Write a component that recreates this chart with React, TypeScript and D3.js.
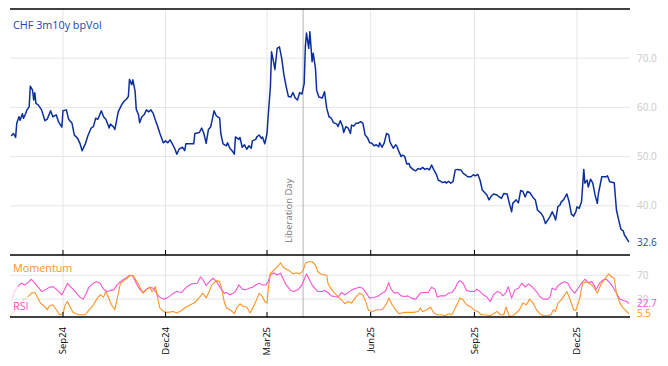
import { line, scaleLinear, scaleTime, timeDay, timeFormat } from "d3";

// days since START_DATE, value
const volSeries: [number, number][] = [
  [1, 54.2], [3, 54.7], [5, 53.9], [6, 56.8], [8, 58.1], [9, 57.4], [11, 58.7], [12, 57.8], [14, 58.8], [15, 59.5],
  [17, 60.1], [18, 64.3], [20, 63.5], [21, 61.5], [22, 63.0], [23, 60.8], [25, 60.5], [28, 59.5], [31, 57.3], [33, 57.6],
  [36, 59.3], [38, 58.1], [41, 58.5], [43, 57.1], [46, 56.0], [47, 59.3], [50, 59.5], [52, 57.6], [55, 56.8], [57, 54.4],
  [60, 53.7], [62, 52.7], [64, 51.2], [67, 52.7], [69, 54.2], [72, 55.8], [74, 56.1], [76, 57.8], [78, 57.6], [81, 59.3],
  [83, 58.1], [85, 57.6], [88, 55.8], [89, 56.6], [92, 56.0], [93, 55.5], [96, 59.1], [99, 60.5], [101, 61.2], [103, 61.6],
  [105, 62.2], [106, 65.7], [108, 64.6], [109, 65.6], [111, 63.2], [112, 59.6], [114, 58.5], [115, 56.9], [117, 58.1], [119, 58.5],
  [121, 59.5], [123, 59.1], [125, 59.5], [127, 58.8], [129, 57.4], [131, 56.1], [133, 54.7], [136, 52.8], [138, 53.2], [140, 52.8],
  [142, 53.4], [144, 52.6], [146, 51.7], [148, 50.5], [150, 51.5], [153, 51.9], [155, 51.2], [156, 52.6], [159, 52.6], [163, 52.6],
  [164, 54.7], [168, 54.9], [170, 55.8], [172, 54.7], [174, 52.7], [176, 55.5], [178, 56.0], [181, 59.3], [183, 58.3], [186, 57.8],
  [187, 54.7], [189, 52.6], [192, 52.2], [193, 52.8], [195, 51.7], [197, 51.2], [199, 50.5], [200, 54.0], [203, 53.5], [204, 53.9],
  [206, 51.9], [208, 52.4], [210, 51.5], [212, 52.2], [214, 51.7], [215, 53.2], [218, 53.5], [219, 54.0], [221, 54.4], [223, 53.7],
  [224, 54.0], [226, 52.6], [228, 54.7], [229, 58.1], [231, 64.2], [232, 71.3], [234, 69.0], [235, 67.7], [237, 72.0], [239, 72.3],
  [241, 70.0], [243, 66.6], [245, 64.2], [247, 62.2], [249, 62.1], [251, 63.0], [253, 61.9], [255, 61.5], [257, 63.0], [259, 62.7],
  [261, 64.9], [262, 72.3], [263, 75.1], [265, 72.0], [266, 75.4], [268, 69.3], [269, 71.0], [271, 67.9], [272, 63.5], [274, 62.1],
  [277, 61.9], [279, 63.2], [281, 59.8], [283, 58.1], [285, 57.8], [287, 56.9], [290, 56.6], [291, 56.1], [293, 57.3], [295, 56.2],
  [296, 54.9], [298, 56.1], [300, 55.8], [302, 54.7], [303, 56.4], [305, 56.2], [307, 56.8], [309, 56.8], [311, 57.1], [313, 56.8],
  [315, 54.4], [317, 53.9], [319, 52.8], [321, 52.7], [323, 52.2], [325, 52.4], [327, 52.0], [328, 52.8], [330, 51.9], [332, 52.8],
  [334, 54.7], [336, 54.4], [337, 53.0], [340, 51.7], [342, 52.4], [343, 52.2], [345, 51.0], [347, 50.0], [348, 50.3], [350, 50.1],
  [352, 48.5], [354, 48.6], [355, 47.9], [358, 47.3], [360, 47.1], [362, 47.6], [364, 47.4], [366, 47.8], [368, 47.4], [370, 47.6],
  [372, 47.3], [374, 48.3], [376, 47.3], [378, 46.5], [380, 45.2], [381, 45.1], [384, 44.7], [386, 44.9], [387, 44.6], [389, 45.0],
  [391, 44.6], [393, 44.9], [395, 47.3], [397, 47.4], [400, 47.3], [402, 46.6], [404, 46.3], [406, 45.9], [409, 45.9], [411, 46.3],
  [413, 46.1], [415, 46.4], [417, 45.2], [419, 43.2], [421, 42.7], [423, 42.2], [425, 41.2], [427, 42.0], [429, 42.4], [432, 42.2],
  [434, 41.8], [436, 41.5], [438, 42.5], [441, 42.4], [443, 40.5], [445, 38.8], [446, 40.5], [449, 41.2], [451, 40.6], [453, 43.1],
  [455, 42.9], [457, 41.8], [459, 42.9], [461, 42.7], [464, 41.7], [466, 41.2], [468, 39.1], [471, 38.5], [473, 37.8], [475, 36.4],
  [477, 37.1], [479, 37.8], [481, 38.8], [483, 37.8], [484, 37.1], [486, 39.8], [488, 40.2], [489, 40.8], [491, 41.2], [494, 42.4],
  [496, 40.8], [498, 38.3], [500, 37.9], [502, 38.8], [503, 39.8], [505, 39.5], [507, 40.8], [509, 47.4], [510, 44.6], [512, 45.2],
  [513, 43.8], [515, 45.4], [517, 44.6], [519, 42.2], [521, 40.5], [522, 42.5], [525, 45.9], [527, 45.9], [529, 45.9], [530, 46.1],
  [532, 44.9], [534, 44.8], [536, 44.7], [538, 39.1], [540, 37.1], [542, 35.2], [544, 34.9], [545, 34.1], [547, 33.4], [549, 32.6],
];

const rsiSeries: [number, number][] = [
  [2, 31.7], [4, 42.7], [7, 51.0], [10, 56.7], [13, 53.8], [16, 57.7], [19, 63.3], [22, 56.7], [25, 50.0], [28, 42.7],
  [31, 45.5], [35, 50.0], [38, 51.0], [41, 46.7], [46, 37.2], [49, 48.3], [51, 56.7], [54, 50.0], [58, 42.7], [62, 33.3],
  [65, 30.0], [67, 37.2], [70, 50.0], [74, 56.7], [77, 59.3], [80, 56.7], [83, 46.7], [86, 42.7], [89, 44.3], [92, 45.5],
  [95, 53.8], [98, 59.3], [101, 63.3], [104, 66.7], [106, 70.0], [109, 68.8], [112, 56.7], [115, 46.7], [118, 41.0], [121, 46.7],
  [124, 50.0], [127, 48.3], [130, 40.0], [132, 34.3], [136, 30.0], [139, 31.7], [142, 35.5], [145, 40.0], [148, 42.7], [152, 41.0],
  [157, 51.0], [161, 55.5], [166, 56.7], [169, 67.0], [171, 63.0], [174, 53.0], [177, 59.3], [180, 65.0], [183, 60.0], [186, 51.0],
  [190, 40.0], [192, 41.0], [195, 37.2], [198, 40.0], [200, 42.7], [203, 53.8], [206, 46.7], [209, 45.5], [212, 48.3], [215, 50.0],
  [218, 53.8], [221, 56.7], [224, 53.8], [227, 53.8], [229, 59.3], [231, 70.5], [234, 74.3], [237, 70.5], [240, 73.3], [242, 65.0],
  [245, 53.8], [249, 44.3], [252, 42.7], [256, 46.7], [259, 53.8], [261, 63.3], [263, 72.2], [265, 65.0], [268, 53.8], [271, 46.7],
  [273, 42.7], [277, 42.7], [279, 44.3], [282, 41.0], [285, 35.5], [288, 34.3], [291, 33.3], [294, 41.0], [297, 37.2], [300, 41.0],
  [303, 45.5], [307, 48.3], [310, 50.0], [313, 48.3], [316, 40.0], [319, 31.7], [322, 32.7], [326, 34.3], [330, 40.0], [333, 42.7],
  [336, 57.7], [338, 46.7], [341, 40.0], [344, 41.0], [347, 35.5], [350, 34.3], [353, 35.5], [356, 31.7], [360, 30.0], [364, 40.0],
  [367, 41.0], [371, 41.0], [374, 50.0], [377, 46.7], [379, 33.3], [382, 35.5], [386, 35.5], [389, 40.0], [392, 41.0], [395, 48.3],
  [397, 57.0], [399, 61.0], [402, 56.7], [405, 44.3], [409, 42.7], [412, 42.7], [414, 46.7], [417, 42.7], [420, 37.2], [423, 33.3],
  [426, 26.0], [429, 37.2], [432, 42.7], [435, 41.0], [437, 35.5], [440, 41.0], [442, 51.0], [445, 31.7], [448, 45.5], [451, 48.3],
  [454, 56.7], [457, 50.0], [460, 55.5], [463, 51.0], [467, 42.7], [470, 34.3], [473, 30.0], [477, 30.0], [479, 33.3], [481, 48.3],
  [484, 45.5], [486, 52.2], [489, 56.7], [492, 59.3], [495, 56.7], [498, 45.5], [501, 40.0], [504, 48.3], [507, 56.7], [510, 63.3],
  [513, 57.7], [516, 59.3], [518, 53.8], [520, 46.7], [523, 56.7], [526, 62.2], [529, 63.3], [532, 57.7], [535, 50.0], [538, 40.0],
  [541, 30.0], [544, 27.7], [547, 26.0], [549, 22.7],
];

const momentumSeries: [number, number][] = [
  [0, 1.0], [6, 15.0], [12, 28.8], [16, 34.3], [19, 40.0], [22, 41.0], [24, 34.3], [27, 23.3], [30, 18.8], [33, 12.2],
  [35, 18.8], [38, 20.5], [41, 12.2], [44, 3.8], [47, 5.5], [49, 20.5], [51, 26.0], [53, 17.7], [56, 7.7], [61, 3.8],
  [67, 3.8], [69, 9.3], [73, 17.7], [77, 30.0], [80, 37.2], [83, 33.3], [85, 42.7], [87, 34.3], [90, 20.5], [93, 12.2],
  [95, 30.0], [98, 56.7], [101, 61.0], [104, 65.0], [106, 68.8], [109, 70.0], [112, 61.0], [115, 51.0], [118, 40.0], [121, 45.5],
  [124, 50.0], [126, 42.7], [129, 51.0], [131, 31.7], [133, 15.0], [136, 9.3], [140, 7.7], [145, 9.3], [148, 6.7], [152, 11.0],
  [155, 15.0], [160, 20.5], [164, 24.3], [169, 35.0], [171, 40.0], [174, 32.0], [176, 40.0], [179, 53.8], [183, 61.0], [186, 59.3],
  [188, 45.5], [190, 26.0], [192, 15.0], [196, 11.0], [199, 5.5], [201, 15.0], [204, 22.2], [207, 17.7], [210, 16.7], [213, 6.7],
  [216, 17.7], [219, 30.0], [221, 40.0], [224, 34.3], [226, 26.0], [228, 23.3], [229, 45.5], [231, 73.3], [234, 78.8], [237, 83.3],
  [240, 91.0], [242, 84.3], [245, 80.0], [248, 77.7], [251, 72.2], [254, 74.3], [257, 72.2], [260, 77.7], [262, 90.0], [265, 92.7],
  [268, 92.7], [271, 87.2], [273, 76.0], [276, 72.2], [279, 70.5], [281, 70.5], [282, 56.7], [285, 46.7], [288, 40.0], [291, 34.3],
  [294, 28.8], [297, 22.2], [300, 26.0], [303, 23.3], [306, 31.7], [310, 40.0], [313, 37.2], [316, 23.3], [318, 11.0], [322, 9.3],
  [325, 12.2], [330, 12.2], [332, 16.7], [334, 22.2], [336, 31.7], [339, 20.5], [342, 12.2], [345, 5.5], [350, 7.7], [353, 7.7],
  [358, 7.7], [362, 9.3], [364, 15.0], [366, 9.3], [370, 12.2], [373, 16.7], [376, 6.7], [379, 3.8], [383, 3.8], [386, 2.2],
  [389, 5.5], [392, 3.8], [395, 15.0], [397, 22.0], [399, 31.7], [402, 28.8], [405, 20.5], [409, 16.7], [412, 11.0], [415, 9.3],
  [418, 3.8], [421, 3.8], [426, 2.2], [430, 6.7], [432, 9.3], [435, 3.8], [438, 3.8], [440, 16.7], [443, 1.0], [446, 2.2],
  [449, 6.7], [452, 12.2], [455, 23.3], [458, 20.5], [461, 30.0], [464, 23.3], [467, 12.2], [470, 5.5], [473, 2.2], [477, 2.2],
  [480, 3.8], [482, 12.2], [484, 9.3], [486, 23.3], [489, 28.8], [492, 37.2], [494, 42.7], [497, 28.8], [500, 12.2], [502, 11.0],
  [505, 28.8], [508, 56.7], [511, 59.3], [514, 56.7], [518, 50.0], [521, 40.0], [524, 53.8], [527, 62.2], [531, 72.2], [534, 66.7],
  [536, 65.0], [538, 40.0], [541, 23.3], [544, 15.0], [547, 9.3], [549, 5.5],
];

const START_DATE = new Date(2024, 6, 16);
const END_DATE = new Date(2026, 0, 17);
const EVENT_DATE = new Date(2025, 3, 2);
const EVENT_LABEL = "Liberation Day";
const xTickDates = [
  new Date(2024, 8, 1),
  new Date(2025, 11, 1),
  new Date(2024, 11, 1),
  new Date(2025, 2, 1),
  new Date(2025, 5, 1),
  new Date(2025, 8, 1),
];
const volTicks = [40, 50, 60, 70];
const oscTicks = [30, 70];
const RSI_WARMUP_DAYS = 6;
const MOMENTUM_WARMUP_DAYS = 14;

const WIDTH = 668;
const HEIGHT = 366;
const LEFT = 10;
const RIGHT = 630;
const TOP = 9;
const MID = 255;
const BOTTOM = 317;
const FONT = "'Open Sans', 'Noto Sans', sans-serif";

const BLUE = "#0c2f9c";
const BLUE_TEXT = "#2445a8";
const PINK = "#f852d6";
const ORANGE = "#fb9426";
const GRID = "#e6e6e6";
const AXIS_TEXT = "#c9c9c9";

type Point = [number, number];

export default function App() {
  const x = scaleTime().domain([START_DATE, END_DATE]).range([LEFT, RIGHT]);
  const yVol = scaleLinear().domain([30, 80]).range([MID, TOP]);
  const yOsc = scaleLinear().domain([0, 104]).range([BOTTOM, MID]);
  const dayX = (d: number) => x(timeDay.offset(START_DATE, d));

  const volPath = line<Point>()
    .x((p) => dayX(p[0]))
    .y((p) => yVol(p[1]))(volSeries);
  const oscLine = line<Point>()
    .x((p) => dayX(p[0]))
    .y((p) => yOsc(p[1]));

  const splitWarmup = (series: Point[], warmup: number) => {
    const idx = series.findIndex((p) => p[0] >= warmup);
    return [series.slice(0, idx + 1), series.slice(idx)];
  };
  const [rsiWarm, rsiMain] = splitWarmup(rsiSeries, RSI_WARMUP_DAYS);
  const [momWarm, momMain] = splitWarmup(momentumSeries, MOMENTUM_WARMUP_DAYS);

  const lastVol = volSeries[volSeries.length - 1][1];
  const lastRsi = rsiSeries[rsiSeries.length - 1][1];
  const lastMom = momentumSeries[momentumSeries.length - 1][1];
  const fmt = timeFormat("%b%y");
  const eventX = x(EVENT_DATE);

  return (
    <svg
      width={WIDTH}
      height={HEIGHT}
      style={{ position: "absolute", left: 0, top: 0, background: "#fff" }}
      fontFamily={FONT}
    >
      {/* grid */}
      {xTickDates.map((d) => (
        <g key={d.toISOString()}>
          <line x1={x(d)} x2={x(d)} y1={TOP} y2={MID} stroke={GRID} />
          <line x1={x(d)} x2={x(d)} y1={MID} y2={BOTTOM} stroke={GRID} />
        </g>
      ))}
      {volTicks.map((t) => (
        <line key={t} x1={LEFT} x2={RIGHT} y1={yVol(t)} y2={yVol(t)} stroke={GRID} />
      ))}
      {oscTicks.map((t) => (
        <line key={t} x1={LEFT} x2={RIGHT} y1={yOsc(t)} y2={yOsc(t)} stroke={GRID} />
      ))}

      {/* event marker */}
      <line x1={eventX} x2={eventX} y1={TOP} y2={BOTTOM} stroke="#b3b3b3" />
      <text
        transform={`translate(${eventX - 11.5},243) rotate(-90)`}
        fontSize={9.5}
        fill="#7a7a7a"
      >
        {EVENT_LABEL}
      </text>

      {/* series */}
      <path d={volPath ?? ""} fill="none" stroke={BLUE} strokeWidth={1.5} strokeLinejoin="round" />
      <path d={oscLine(rsiWarm) ?? ""} fill="none" stroke={PINK} strokeOpacity={0.3} strokeWidth={1.1} />
      <path d={oscLine(momWarm) ?? ""} fill="none" stroke={ORANGE} strokeOpacity={0.3} strokeWidth={1.1} />
      <path d={oscLine(rsiMain) ?? ""} fill="none" stroke={PINK} strokeWidth={1.1} strokeLinejoin="round" />
      <path d={oscLine(momMain) ?? ""} fill="none" stroke={ORANGE} strokeWidth={1.1} strokeLinejoin="round" />

      {/* frame */}
      <line x1={LEFT} x2={RIGHT} y1={TOP} y2={TOP} stroke="#000" strokeWidth={1.5} />
      <line x1={LEFT} x2={RIGHT} y1={MID} y2={MID} stroke="#000" strokeWidth={1.5} />
      <line x1={LEFT} x2={RIGHT} y1={BOTTOM} y2={BOTTOM} stroke="#000" strokeWidth={1.5} />
      {xTickDates.map((d) => (
        <g key={`t${d.toISOString()}`}>
          <line x1={x(d)} x2={x(d)} y1={MID - 5} y2={MID} stroke="#000" />
          <line x1={x(d)} x2={x(d)} y1={BOTTOM - 5} y2={BOTTOM} stroke="#000" />
          <text
            transform={`translate(${x(d)},327) rotate(-90)`}
            textAnchor="end"
            dy="0.35em"
            fontSize={9.5}
            fill="#000"
          >
            {fmt(d)}
          </text>
        </g>
      ))}

      {/* right axis labels */}
      {volTicks.map((t) => (
        <text key={t} x={637} y={yVol(t)} dy="0.35em" fontSize={10} fill={AXIS_TEXT}>
          {t.toFixed(1)}
        </text>
      ))}
      {oscTicks.map((t) => (
        <text key={t} x={637} y={yOsc(t)} dy="0.35em" fontSize={10} fill={AXIS_TEXT}>
          {t}
        </text>
      ))}
      <text x={637} y={yVol(lastVol)} dy="0.35em" fontSize={10} fill={BLUE_TEXT}>
        {lastVol.toFixed(1)}
      </text>
      <text x={637} y={yOsc(lastRsi)} dy="0.35em" fontSize={10} fill={PINK}>
        {lastRsi.toFixed(1)}
      </text>
      <text x={637} y={yOsc(lastMom)} dy="0.35em" fontSize={10} fill={ORANGE}>
        {lastMom.toFixed(1)}
      </text>

      {/* panel titles */}
      <text x={13} y={29} fontSize={10.8} fill={BLUE_TEXT}>
        CHF 3m10y bpVol
      </text>
      <text x={13} y={271.5} fontSize={10.8} fill={ORANGE}>
        Momentum
      </text>
      <text x={13} y={310} fontSize={10.8} fill={PINK}>
        RSI
      </text>
    </svg>
  );
}
